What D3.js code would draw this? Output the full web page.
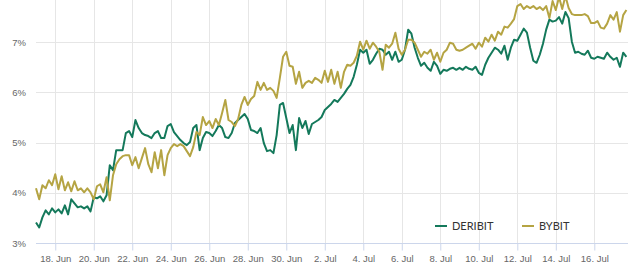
<!DOCTYPE html>
<html>
<head>
<meta charset="utf-8">
<script src="https://cdn.jsdelivr.net/npm/d3@7"></script>
<style>
  html, body { margin: 0; padding: 0; background: #fff; }
  svg { display: block; font-family: Lato, "Open Sans", sans-serif; }
  .grid line { stroke: #e6e6e6; stroke-width: 1; }
  .axis-x path, .axis-x line { stroke: #ccd6eb; }
  .axis-x text, .axis-y text { fill: #666; font-size: 9.5px; }
  .series { fill: none; stroke-width: 2; stroke-linejoin: round; }
  .legend text { fill: #333; font-size: 11px; }
</style>
</head>
<body>
<div id="chart"></div>
<script>
// 4-hourly readings, starting 17 Jun 00:00 UTC
var start = new Date(Date.UTC(2023, 5, 17, 0));
var step_hours = 4;

var names  = ['DERIBIT', 'BYBIT'];
var colors = ['#14795b', '#b5a443'];

var deribit = [
  3.41, 3.31, 3.51, 3.65, 3.57, 3.69, 3.61, 3.67, 3.59, 3.75,
  3.57, 3.87, 3.79, 3.71, 3.73, 3.69, 3.73, 3.63, 3.91, 3.89,
  3.93, 3.83, 3.95, 4.55, 4.45, 4.85, 4.85, 4.85, 5.19, 5.23,
  5.11, 5.45, 5.29, 5.19, 5.15, 5.13, 5.09, 5.19, 5.23, 5.09,
  5.09, 5.33, 5.37, 5.21, 5.13, 5.05, 4.99, 4.95, 5.01, 5.29,
  5.35, 4.85, 5.09, 5.21, 5.19, 5.13, 5.23, 5.35, 5.29, 5.11,
  5.09, 5.19, 5.39, 5.45, 5.51, 5.57, 5.47, 5.25, 5.23, 5.19,
  5.29, 4.99, 4.83, 4.85, 4.79, 5.15, 5.75, 5.79, 5.49, 5.19,
  5.35, 4.85, 5.49, 5.29, 5.43, 5.17, 5.37, 5.41, 5.45, 5.51,
  5.65, 5.71, 5.77, 5.85, 5.81, 5.89, 5.97, 6.07, 6.15, 6.31,
  6.55, 6.85, 6.79, 6.85, 6.57, 6.65, 6.77, 6.87, 6.85, 6.75,
  6.81, 6.65, 6.81, 6.61, 6.65, 6.85, 7.25, 7.17, 6.89, 6.69,
  6.53, 6.59, 6.49, 6.43, 6.61, 6.53, 6.37, 6.45, 6.43, 6.47,
  6.49, 6.45, 6.49, 6.45, 6.51, 6.47, 6.45, 6.51, 6.39, 6.35,
  6.55, 6.69, 6.79, 6.89, 6.85, 6.77, 6.93, 6.65, 6.89, 7.05,
  7.03, 7.15, 7.27, 7.19, 6.89, 6.63, 6.59, 6.75, 6.97, 7.25,
  7.45, 7.41, 7.43, 7.50, 7.37, 7.60, 7.48, 7.01, 6.79, 6.81,
  6.77, 6.75, 6.83, 6.69, 6.67, 6.71, 6.69, 6.67, 6.79, 6.71,
  6.65, 6.69, 6.51, 6.79, 6.71
];

var bybit = [
  4.09, 3.87, 4.15, 4.09, 4.25, 4.15, 4.37, 4.07, 4.33, 4.05,
  4.21, 4.03, 4.23, 4.05, 4.09, 4.01, 4.09, 4.01, 3.87, 4.13,
  4.17, 4.01, 4.31, 3.85, 4.35, 4.57, 4.67, 4.73, 4.75, 4.75,
  4.55, 4.71, 4.49, 4.69, 4.89, 4.57, 4.41, 4.81, 4.49, 4.85,
  4.35, 4.75, 4.89, 4.97, 4.93, 4.97, 4.93, 4.83, 4.73, 4.91,
  5.21, 5.15, 5.51, 5.35, 5.43, 5.29, 5.47, 5.35, 5.59, 5.85,
  5.45, 5.41, 5.33, 5.47, 5.75, 5.91, 5.75, 5.87, 5.93, 6.21,
  6.05, 6.19, 6.05, 6.09, 6.03, 5.89, 6.29, 6.71, 6.81, 6.53,
  6.51, 6.17, 6.41, 6.09, 6.19, 6.23, 6.19, 6.29, 6.25, 6.19,
  6.43, 6.21, 6.45, 6.17, 6.41, 6.09, 6.41, 6.55, 6.53, 6.59,
  6.73, 7.01, 6.85, 7.03, 6.87, 6.99, 6.91, 6.81, 6.45, 6.95,
  6.89, 6.97, 7.19, 6.87, 6.75, 6.85, 7.05, 7.05, 6.99, 6.85,
  6.71, 6.81, 6.77, 6.85, 6.65, 6.79, 6.61, 6.79, 6.85, 6.99,
  6.97, 6.85, 6.83, 6.85, 6.89, 6.93, 6.97, 6.87, 6.99, 6.91,
  7.09, 7.01, 7.15, 7.03, 7.21, 7.15, 7.31, 7.29, 7.37, 7.46,
  7.72, 7.76, 7.66, 7.72, 7.68, 7.72, 7.66, 7.70, 7.64, 7.72,
  7.48, 7.82, 7.64, 7.90, 7.66, 7.92, 7.68, 7.56, 7.54, 7.54,
  7.54, 7.56, 7.52, 7.38, 7.38, 7.42, 7.29, 7.27, 7.37, 7.54,
  7.45, 7.60, 7.21, 7.54, 7.64
];

var y_ticks = [3, 4, 5, 6, 7, 8];
var x_tick_start = new Date(Date.UTC(2023, 5, 18));
var x_end = new Date(Date.UTC(2023, 6, 17, 18));

(() => {
  var W = 640, H = 266;
  var p_left = 36, p_right = 628, p_top = -8, p_bottom = 243;

  var svg = d3.select('#chart').append('svg')
    .attr('width', W)
    .attr('height', H);

  var to_points = (vals) => vals.map((v, i) => ({
    time: new Date(start.getTime() + i * step_hours * 3600e3),
    value: v
  }));

  var sources = [to_points(deribit), to_points(bybit)];

  var x = d3.scaleUtc()
    .domain([start, x_end])
    .range([p_left, p_right]);

  var y = d3.scaleLinear()
    .domain([3, 8])
    .range([p_bottom, p_top]);

  var x_ticks = d3.utcDay.range(x_tick_start, x_end).filter((d, i) => i % 2 === 0);

  // grid
  var grid = svg.append('g').attr('class', 'grid');

  grid.selectAll('line.h')
    .data(y_ticks)
    .enter()
    .append('line')
    .attr('class', 'h')
    .attr('x1', p_left)
    .attr('x2', p_right)
    .attr('y1', (d) => Math.round(y(d)) + 0.5)
    .attr('y2', (d) => Math.round(y(d)) + 0.5);

  grid.selectAll('line.v')
    .data(x_ticks)
    .enter()
    .append('line')
    .attr('class', 'v')
    .attr('x1', (d) => Math.round(x(d)) + 0.5)
    .attr('x2', (d) => Math.round(x(d)) + 0.5)
    .attr('y1', 0)
    .attr('y2', p_bottom);

  // axes
  var fmt = d3.utcFormat('%-d. %b');

  var gx = svg.append('g')
    .attr('class', 'axis-x')
    .attr('transform', `translate(0, ${ p_bottom + 0.5 })`)
    .call(d3.axisBottom(x)
      .tickValues(x_ticks)
      .tickFormat(fmt)
      .tickSize(7)
      .tickSizeOuter(0)
      .tickPadding(5));

  gx.select('.domain').attr('d', `M${ p_left },0H${ p_right }`);
  gx.selectAll('text').attr('font-family', null);

  var gy = svg.append('g')
    .attr('class', 'axis-y')
    .attr('transform', 'translate(26, 0)')
    .call(d3.axisLeft(y)
      .tickValues(y_ticks)
      .tickFormat((d) => d + '%')
      .tickSize(0)
      .tickPadding(0));

  gy.select('.domain').remove();
  gy.selectAll('text').attr('font-family', null);

  // lines
  var line = d3.line()
    .x((d) => x(d.time))
    .y((d) => y(d.value));

  svg.append('g')
    .selectAll('path.series')
    .data(sources)
    .enter()
    .append('path')
    .attr('class', 'series')
    .attr('d', line)
    .attr('stroke', (d, i) => colors[i]);

  // legend
  var legend = svg.append('g')
    .attr('class', 'legend')
    .attr('transform', 'translate(435, 226)');

  var item = legend.selectAll('g')
    .data(names)
    .enter()
    .append('g')
    .attr('transform', (d, i) => `translate(${ i * 87 }, 0)`);

  item.append('line')
    .attr('x1', 0)
    .attr('x2', 12)
    .attr('y1', 0)
    .attr('y2', 0)
    .attr('stroke-width', 2)
    .attr('stroke', (d, i) => colors[i]);

  item.append('text')
    .attr('x', 17)
    .attr('y', 4)
    .text((d) => d);
})();
</script>
</body>
</html>
